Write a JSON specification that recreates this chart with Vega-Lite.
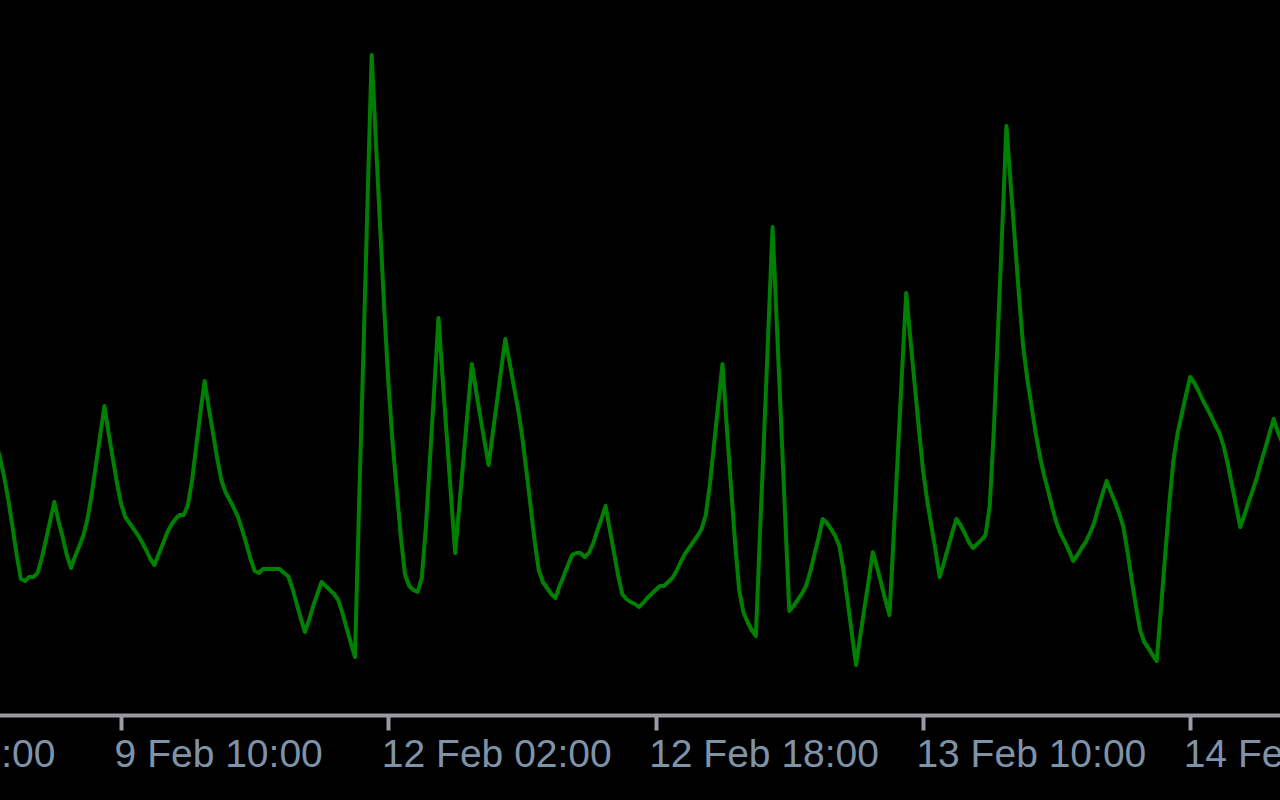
{
  "$schema": "https://vega.github.io/schema/vega-lite/v6.json",
  "width": 1430,
  "height": 715,
  "autosize": "none",
  "padding": {"left": -150, "top": 0, "right": 0, "bottom": 85},
  "background": "#000000",
  "config": {"view": {"stroke": null}},
  "data": {"values": [
    {"i": -1, "v": 273}, {"i": 0, "v": 257}, {"i": 1, "v": 238}, {"i": 2, "v": 215}, {"i": 3, "v": 188},
    {"i": 4, "v": 160}, {"i": 5, "v": 136}, {"i": 6, "v": 134}, {"i": 7, "v": 138}, {"i": 8, "v": 138},
    {"i": 9, "v": 142}, {"i": 10, "v": 157}, {"i": 11, "v": 175}, {"i": 12, "v": 194}, {"i": 13, "v": 213},
    {"i": 14, "v": 194}, {"i": 15, "v": 178}, {"i": 16, "v": 160}, {"i": 17, "v": 147}, {"i": 18, "v": 159},
    {"i": 19, "v": 169}, {"i": 20, "v": 180}, {"i": 21, "v": 197}, {"i": 22, "v": 222}, {"i": 23, "v": 251},
    {"i": 24, "v": 280}, {"i": 25, "v": 309}, {"i": 26, "v": 282}, {"i": 27, "v": 257}, {"i": 28, "v": 232},
    {"i": 29, "v": 211}, {"i": 30, "v": 198}, {"i": 31, "v": 192}, {"i": 32, "v": 186}, {"i": 33, "v": 180},
    {"i": 34, "v": 173}, {"i": 35, "v": 165}, {"i": 36, "v": 156}, {"i": 37, "v": 150}, {"i": 38, "v": 161},
    {"i": 39, "v": 171}, {"i": 40, "v": 182}, {"i": 41, "v": 190}, {"i": 42, "v": 196}, {"i": 43, "v": 200},
    {"i": 44, "v": 200}, {"i": 45, "v": 210}, {"i": 46, "v": 235}, {"i": 47, "v": 269}, {"i": 48, "v": 303},
    {"i": 49, "v": 334}, {"i": 50, "v": 307}, {"i": 51, "v": 282}, {"i": 52, "v": 257}, {"i": 53, "v": 235},
    {"i": 54, "v": 223}, {"i": 55, "v": 215}, {"i": 56, "v": 207}, {"i": 57, "v": 198}, {"i": 58, "v": 185},
    {"i": 59, "v": 171}, {"i": 60, "v": 156}, {"i": 61, "v": 144}, {"i": 62, "v": 142}, {"i": 63, "v": 146},
    {"i": 64, "v": 146}, {"i": 65, "v": 146}, {"i": 66, "v": 146}, {"i": 67, "v": 146}, {"i": 68, "v": 142},
    {"i": 69, "v": 139}, {"i": 70, "v": 127}, {"i": 71, "v": 112}, {"i": 72, "v": 97}, {"i": 73, "v": 83},
    {"i": 74, "v": 95}, {"i": 75, "v": 109}, {"i": 76, "v": 121}, {"i": 77, "v": 133}, {"i": 78, "v": 129},
    {"i": 79, "v": 125}, {"i": 80, "v": 121}, {"i": 81, "v": 115}, {"i": 82, "v": 102}, {"i": 83, "v": 87},
    {"i": 84, "v": 72}, {"i": 85, "v": 58}, {"i": 86, "v": 213}, {"i": 87, "v": 359}, {"i": 88, "v": 513},
    {"i": 89, "v": 660}, {"i": 90, "v": 574}, {"i": 91, "v": 490}, {"i": 92, "v": 407}, {"i": 93, "v": 332},
    {"i": 94, "v": 273}, {"i": 95, "v": 225}, {"i": 96, "v": 177}, {"i": 97, "v": 140}, {"i": 98, "v": 129},
    {"i": 99, "v": 125}, {"i": 100, "v": 123}, {"i": 101, "v": 137}, {"i": 102, "v": 189}, {"i": 103, "v": 259},
    {"i": 104, "v": 327}, {"i": 105, "v": 397}, {"i": 106, "v": 336}, {"i": 107, "v": 278}, {"i": 108, "v": 219},
    {"i": 109, "v": 162}, {"i": 110, "v": 210}, {"i": 111, "v": 257}, {"i": 112, "v": 305}, {"i": 113, "v": 351},
    {"i": 114, "v": 324}, {"i": 115, "v": 299}, {"i": 116, "v": 274}, {"i": 117, "v": 250}, {"i": 118, "v": 282},
    {"i": 119, "v": 313}, {"i": 120, "v": 345}, {"i": 121, "v": 376}, {"i": 122, "v": 353}, {"i": 123, "v": 330},
    {"i": 124, "v": 307}, {"i": 125, "v": 280}, {"i": 126, "v": 246}, {"i": 127, "v": 211}, {"i": 128, "v": 175},
    {"i": 129, "v": 145}, {"i": 130, "v": 133}, {"i": 131, "v": 127}, {"i": 132, "v": 121}, {"i": 133, "v": 117},
    {"i": 134, "v": 129}, {"i": 135, "v": 139}, {"i": 136, "v": 150}, {"i": 137, "v": 160}, {"i": 138, "v": 162},
    {"i": 139, "v": 162}, {"i": 140, "v": 158}, {"i": 141, "v": 162}, {"i": 142, "v": 171}, {"i": 143, "v": 184},
    {"i": 144, "v": 196}, {"i": 145, "v": 209}, {"i": 146, "v": 186}, {"i": 147, "v": 163}, {"i": 148, "v": 140},
    {"i": 149, "v": 121}, {"i": 150, "v": 116}, {"i": 151, "v": 113}, {"i": 152, "v": 111}, {"i": 153, "v": 108},
    {"i": 154, "v": 112}, {"i": 155, "v": 117}, {"i": 156, "v": 121}, {"i": 157, "v": 125}, {"i": 158, "v": 129},
    {"i": 159, "v": 129}, {"i": 160, "v": 133}, {"i": 161, "v": 137}, {"i": 162, "v": 144}, {"i": 163, "v": 153},
    {"i": 164, "v": 161}, {"i": 165, "v": 167}, {"i": 166, "v": 173}, {"i": 167, "v": 179}, {"i": 168, "v": 186},
    {"i": 169, "v": 200}, {"i": 170, "v": 231}, {"i": 171, "v": 271}, {"i": 172, "v": 311}, {"i": 173, "v": 351},
    {"i": 174, "v": 290}, {"i": 175, "v": 231}, {"i": 176, "v": 173}, {"i": 177, "v": 125}, {"i": 178, "v": 103},
    {"i": 179, "v": 93}, {"i": 180, "v": 85}, {"i": 181, "v": 79}, {"i": 182, "v": 183}, {"i": 183, "v": 283},
    {"i": 184, "v": 386}, {"i": 185, "v": 488}, {"i": 186, "v": 392}, {"i": 187, "v": 296}, {"i": 188, "v": 200},
    {"i": 189, "v": 104}, {"i": 190, "v": 109}, {"i": 191, "v": 115}, {"i": 192, "v": 121}, {"i": 193, "v": 129},
    {"i": 194, "v": 143}, {"i": 195, "v": 160}, {"i": 196, "v": 177}, {"i": 197, "v": 196}, {"i": 198, "v": 192},
    {"i": 199, "v": 186}, {"i": 200, "v": 179}, {"i": 201, "v": 169}, {"i": 202, "v": 144}, {"i": 203, "v": 113},
    {"i": 204, "v": 81}, {"i": 205, "v": 50}, {"i": 206, "v": 79}, {"i": 207, "v": 107}, {"i": 208, "v": 134},
    {"i": 209, "v": 163}, {"i": 210, "v": 148}, {"i": 211, "v": 132}, {"i": 212, "v": 115}, {"i": 213, "v": 100},
    {"i": 214, "v": 179}, {"i": 215, "v": 261}, {"i": 216, "v": 343}, {"i": 217, "v": 422}, {"i": 218, "v": 376},
    {"i": 219, "v": 332}, {"i": 220, "v": 288}, {"i": 221, "v": 246}, {"i": 222, "v": 215}, {"i": 223, "v": 190},
    {"i": 224, "v": 165}, {"i": 225, "v": 138}, {"i": 226, "v": 152}, {"i": 227, "v": 167}, {"i": 228, "v": 182},
    {"i": 229, "v": 196}, {"i": 230, "v": 190}, {"i": 231, "v": 182}, {"i": 232, "v": 173}, {"i": 233, "v": 167},
    {"i": 234, "v": 171}, {"i": 235, "v": 175}, {"i": 236, "v": 180}, {"i": 237, "v": 209}, {"i": 238, "v": 286},
    {"i": 239, "v": 386}, {"i": 240, "v": 486}, {"i": 241, "v": 589}, {"i": 242, "v": 532}, {"i": 243, "v": 476},
    {"i": 244, "v": 420}, {"i": 245, "v": 369}, {"i": 246, "v": 336}, {"i": 247, "v": 309}, {"i": 248, "v": 282},
    {"i": 249, "v": 259}, {"i": 250, "v": 240}, {"i": 251, "v": 224}, {"i": 252, "v": 207}, {"i": 253, "v": 192},
    {"i": 254, "v": 181}, {"i": 255, "v": 173}, {"i": 256, "v": 164}, {"i": 257, "v": 154}, {"i": 258, "v": 160},
    {"i": 259, "v": 167}, {"i": 260, "v": 173}, {"i": 261, "v": 182}, {"i": 262, "v": 192}, {"i": 263, "v": 207},
    {"i": 264, "v": 221}, {"i": 265, "v": 234}, {"i": 266, "v": 223}, {"i": 267, "v": 213}, {"i": 268, "v": 202},
    {"i": 269, "v": 188}, {"i": 270, "v": 163}, {"i": 271, "v": 135}, {"i": 272, "v": 109}, {"i": 273, "v": 85},
    {"i": 274, "v": 73}, {"i": 275, "v": 67}, {"i": 276, "v": 60}, {"i": 277, "v": 54}, {"i": 278, "v": 106},
    {"i": 279, "v": 159}, {"i": 280, "v": 211}, {"i": 281, "v": 255}, {"i": 282, "v": 282}, {"i": 283, "v": 301},
    {"i": 284, "v": 320}, {"i": 285, "v": 338}, {"i": 286, "v": 332}, {"i": 287, "v": 324}, {"i": 288, "v": 315},
    {"i": 289, "v": 307}, {"i": 290, "v": 299}, {"i": 291, "v": 290}, {"i": 292, "v": 282}, {"i": 293, "v": 269},
    {"i": 294, "v": 251}, {"i": 295, "v": 230}, {"i": 296, "v": 209}, {"i": 297, "v": 188}, {"i": 298, "v": 200},
    {"i": 299, "v": 213}, {"i": 300, "v": 225}, {"i": 301, "v": 238}, {"i": 302, "v": 253}, {"i": 303, "v": 267},
    {"i": 304, "v": 282}, {"i": 305, "v": 296}, {"i": 306, "v": 283}, {"i": 307, "v": 273}
  ]},
  "mark": {"type": "line", "color": "#008000", "strokeWidth": 4, "strokeJoin": "round", "clip": true},
  "encoding": {
    "x": {
      "field": "i",
      "type": "quantitative",
      "scale": {"domain": [-35.92, 306.51], "nice": false, "zero": false},
      "axis": {
        "title": null,
        "grid": false,
        "values": [-35, 29, 93, 157, 221, 285],
        "labelExpr": "['8 Feb 18:00','9 Feb 10:00','12 Feb 02:00','12 Feb 18:00','13 Feb 10:00','14 Feb 02:00'][(datum.value + 35) / 64]",
        "domainColor": "#9a9aa2",
        "domainWidth": 4,
        "tickColor": "#9a9aa2",
        "tickWidth": 4,
        "tickSize": 15,
        "tickCap": "butt",
        "labelFont": "Liberation Sans",
        "labelFontSize": 39,
        "labelColor": "#7f93a8",
        "labelAlign": "left",
        "labelBaseline": "top",
        "labelPadding": 5,
        "labelOffset": -7,
        "labelLimit": 0,
        "labelOverlap": false,
        "labelFlush": false,
        "labelBound": false
      }
    },
    "y": {
      "field": "v",
      "type": "quantitative",
      "scale": {"domain": [0, 715], "nice": false, "zero": false},
      "axis": null
    }
  }
}
